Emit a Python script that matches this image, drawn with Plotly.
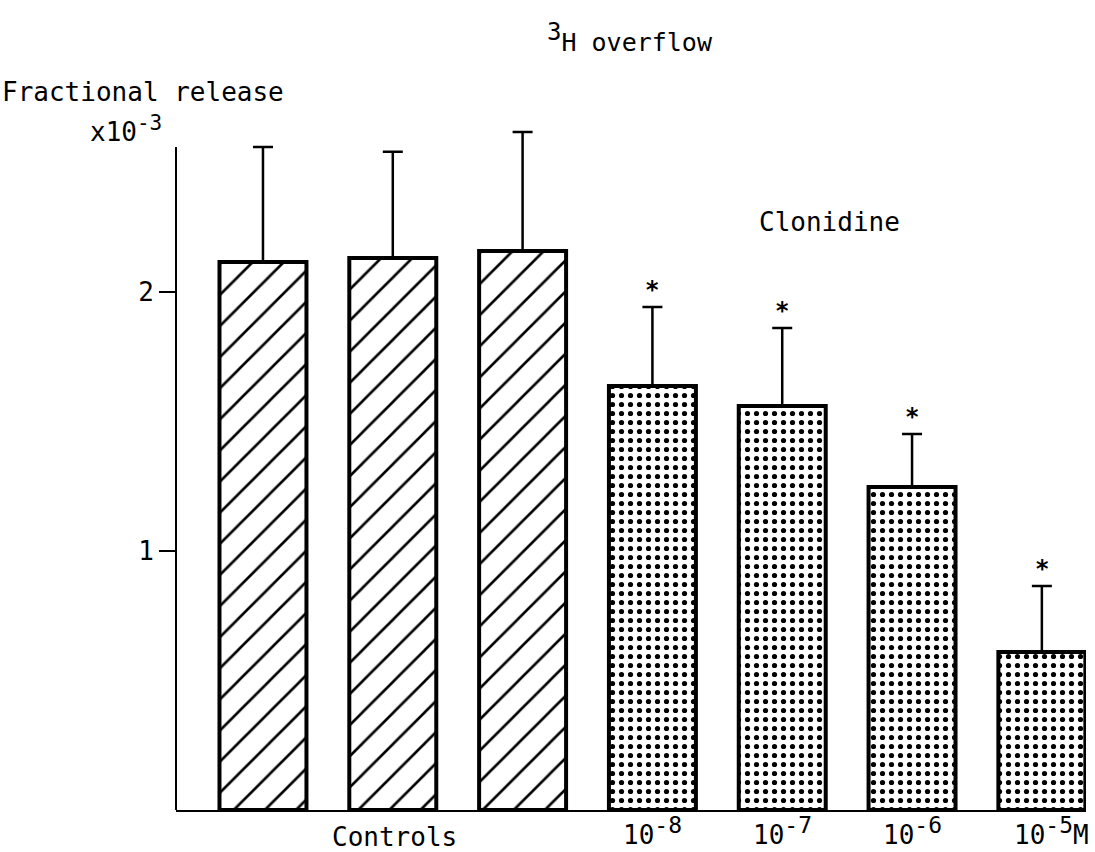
import plotly.graph_objects as go

# ---- data ----
positions = [0, 1, 2, 3, 4, 5, 6]
groups = ["control", "control", "control", "clonidine", "clonidine", "clonidine", "clonidine"]
values = [2.116, 2.131, 2.158, 1.637, 1.560, 1.247, 0.610]
errors = [0.444, 0.410, 0.460, 0.305, 0.301, 0.205, 0.255]
significant = [False, False, False, True, True, True, True]
conc_exponents = ["-8", "-7", "-6", "-5"]
conc_suffix = ["", "", "", "M"]
conc_positions = [3, 4, 5, 6]
y_ticks = [1, 2]
y_axis_top = 2.56

FONT = "DejaVu Sans Mono"


def sup(t, size=23):
    return "<sup><span style='font-size:%dpx'>%s</span></sup>" % (size, t)


shapes = ["/" if g == "control" else "." for g in groups]
psize = [22 if g == "control" else 9 for g in groups]
psolid = [0.12 if g == "control" else 0.26 for g in groups]

W, H = 1095, 852
pl, pr, pb = 176, 9, 42
YMAX = 2.66
scale = 259.0
pt = int(round(H - pb - YMAX * scale))
pw, ph = W - pl - pr, H - pt - pb

fig = go.Figure()
fig.add_trace(go.Bar(
    x=positions, y=values, width=0.67,
    marker=dict(
        color="white",
        line=dict(color="black", width=4),
        pattern=dict(shape=shapes, size=psize, solidity=psolid,
                     fgcolor="black", bgcolor="white", fillmode="replace"),
    ),
    error_y=dict(type="data", array=errors, arrayminus=[0] * len(errors),
                 symmetric=False, color="black", thickness=2.5, width=10),
    cliponaxis=False,
    showlegend=False,
    hoverinfo="skip",
))

annotations = []
for x, v, e, s in zip(positions, values, errors, significant):
    if s:
        annotations.append(dict(x=x, y=v + e, xref="x", yref="y", text="<b>*</b>",
                                showarrow=False, yshift=17,
                                font=dict(family=FONT, size=24, color="black")))
for x, ex, sf in zip(conc_positions, conc_exponents, conc_suffix):
    annotations.append(dict(x=x, y=0, xref="x", yref="y", text="10" + sup(ex) + sf,
                            showarrow=False, yanchor="top", yshift=0,
                            xshift=(10 if sf else 0),
                            font=dict(family=FONT, size=26, color="black")))
annotations.append(dict(x=1, y=0, xref="x", yref="y", text="Controls", showarrow=False,
                        yanchor="top", yshift=-10, xshift=2,
                        font=dict(family=FONT, size=26, color="black")))
annotations.append(dict(x=5.0, y=2.27, xref="x", yref="y", text="Clonidine", showarrow=False,
                        xshift=-83, yanchor="middle",
                        font=dict(family=FONT, size=26, color="black")))


def px(xp):
    return (xp - pl) / pw


def py(yp):
    return (H - pb - yp) / ph


annotations.append(dict(x=px(630), y=py(38), xref="paper", yref="paper",
                        xanchor="center", yanchor="middle",
                        text=sup("3", 24) + "H overflow", showarrow=False,
                        font=dict(family=FONT, size=25, color="black")))
annotations.append(dict(x=px(0), y=py(92), xref="paper", yref="paper",
                        xanchor="left", yanchor="middle",
                        text="Fractional release", showarrow=False,
                        font=dict(family=FONT, size=26, color="black")))
annotations.append(dict(x=px(88), y=py(129), xref="paper", yref="paper",
                        xanchor="left", yanchor="middle",
                        text="x10" + sup("-3", 21), showarrow=False,
                        font=dict(family=FONT, size=26, color="black")))

fig.update_layout(
    width=W, height=H,
    margin=dict(l=pl, r=pr, t=pt, b=pb),
    plot_bgcolor="white", paper_bgcolor="white",
    xaxis=dict(range=[-0.67, 6.34], showline=True, linecolor="black", linewidth=2,
               showgrid=False, zeroline=False, showticklabels=False, ticks=""),
    yaxis=dict(range=[0, YMAX], showline=False,
               showgrid=False, zeroline=False, tickvals=y_ticks,
               ticktext=[str(t) for t in y_ticks],
               ticks="outside", ticklen=16, tickwidth=2, tickcolor="black",
               tickfont=dict(family=FONT, size=26, color="black")),
    annotations=annotations,
    shapes=[dict(type="line", xref="paper", yref="y", x0=0, x1=0, y0=0, y1=y_axis_top,
                 line=dict(color="black", width=2))],
)

fig.write_html("out.html")
